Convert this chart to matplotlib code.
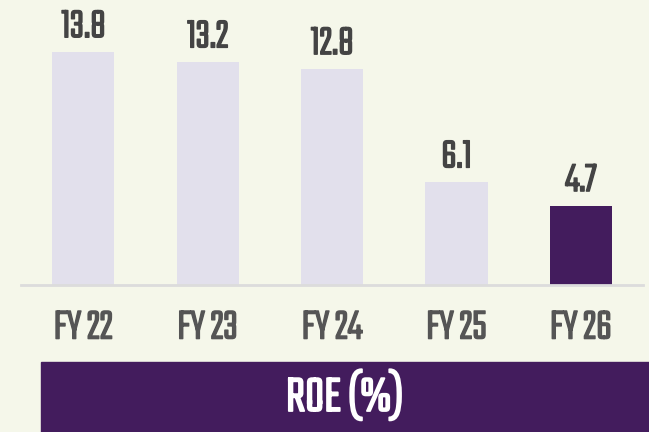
import matplotlib.pyplot as plt
import matplotlib.patheffects as pe
from matplotlib.patches import Rectangle
from matplotlib import font_manager as fm

years = ['FY 22', 'FY 23', 'FY 24', 'FY 25', 'FY 26']
roe = [13.8, 13.2, 12.8, 6.1, 4.7]
title = 'ROE (%)'

bg = '#f5f7ea'
light = '#e2e0ec'
purple = '#431c5d'

names = {f.name for f in fm.fontManager.ttflist}
font = 'Teko' if 'Teko' in names else 'DejaVu Sans'
plt.rcParams['font.family'] = [font, 'DejaVu Sans']


def thick(c, w=1.0):
    # Teko only has a light weight here, so fake the bold with a stroke
    return [pe.withStroke(linewidth=w, foreground=c)]


fig = plt.figure(figsize=(6.49, 4.32), dpi=100, facecolor=bg)
ax = fig.add_axes([21 / 649, 1 - 285 / 432, 622 / 649, 285 / 432])
ax.set_facecolor(bg)

colors = [light] * (len(roe) - 1) + [purple]
x = range(len(years))
bars = ax.bar(x, roe, width=0.5, color=colors)
ax.set_xlim(-0.5, len(years) - 0.5)
ax.set_ylim(0, 16.86)

for b, v in zip(bars, roe):
    ax.text(b.get_x() + b.get_width() / 2, v + 0.5, f'{v}', ha='center', va='bottom',
            fontsize=31, fontweight='bold', color='#444444', path_effects=thick('#444444'))

ax.set_xticks(list(x))
ax.set_xticklabels(years, fontsize=32, fontweight='bold', color='#555555')
for t in ax.get_xticklabels():
    t.set_path_effects(thick('#555555'))
ax.tick_params(axis='x', length=0, pad=17)
ax.set_yticks([])
for s in ['top', 'right', 'left']:
    ax.spines[s].set_visible(False)
ax.spines['bottom'].set_color('#dcdcdc')
ax.spines['bottom'].set_linewidth(2)

# title banner
fig.patches.append(Rectangle((41 / 649, 0), 1 - 41 / 649, 70 / 432, transform=fig.transFigure,
                             color=purple, zorder=0))
fig.text(345 / 649, 21 / 432, title, ha='center', va='baseline', fontsize=38,
         fontweight='bold', color='white', path_effects=thick('white', 1.3))

fig.savefig('out.png', dpi=100, facecolor=bg)
